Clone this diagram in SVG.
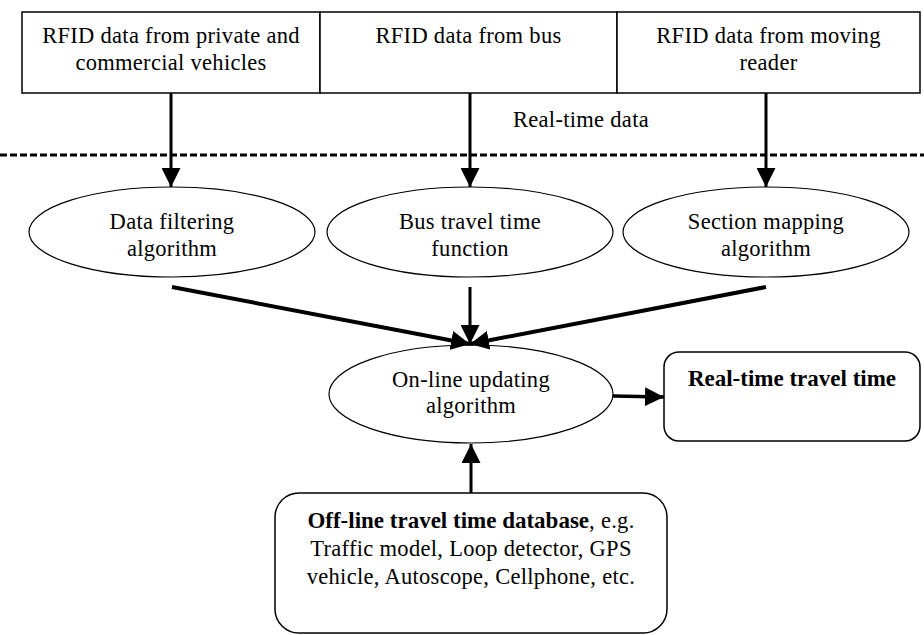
<svg xmlns="http://www.w3.org/2000/svg" width="924" height="635" viewBox="0 0 924 635">
<defs>
<style>
text{font-family:"Liberation Serif","Times New Roman",serif;font-size:22.5px;letter-spacing:0.3px;fill:#000;text-anchor:middle}
.b{font-weight:bold;font-size:23px;letter-spacing:0}
.box{fill:#fff;stroke:#000;stroke-width:1.5}
.ell{fill:#fff;stroke:#000;stroke-width:1.2}
.c{stroke:#000;fill:none}
</style>
<marker id="ah" markerWidth="19" markerHeight="19" viewBox="0 0 19 19" refX="19" refY="9.5" orient="auto" markerUnits="userSpaceOnUse">
<path d="M0,0 L19,9.5 L0,19 Z" fill="#000"/>
</marker>
</defs>
<rect width="924" height="635" fill="#fff"/>
<g id="top-boxes">
<g id="n-private">
<rect class="box" x="22" y="12" width="298" height="81"/>
<text x="171" y="43">RFID data from private and</text>
<text x="171" y="70">commercial vehicles</text>
</g>
<g id="n-bus">
<rect class="box" x="320" y="12" width="297" height="81"/>
<text x="468.5" y="43">RFID data from bus</text>
</g>
<g id="n-moving">
<rect class="box" x="617" y="12" width="303" height="81"/>
<text x="768.5" y="43">RFID data from moving</text>
<text x="768.5" y="70">reader</text>
</g>
</g>
<g id="realtime-label">
<text x="581" y="127">Real-time data</text>
<line x1="0" y1="155" x2="924" y2="155" stroke="#000" stroke-width="3" stroke-dasharray="7,3"/>
</g>
<g id="n-filter">
<ellipse class="ell" cx="172" cy="232" rx="143" ry="45"/>
<text x="172" y="229">Data filtering</text>
<text x="172" y="256">algorithm</text>
</g>
<g id="n-busfn">
<ellipse class="ell" cx="470" cy="232" rx="143" ry="45"/>
<text x="470" y="229">Bus travel time</text>
<text x="470" y="256">function</text>
</g>
<g id="n-section">
<ellipse class="ell" cx="766" cy="232" rx="143" ry="45"/>
<text x="766" y="229">Section mapping</text>
<text x="766" y="256">algorithm</text>
</g>
<g id="n-online">
<ellipse class="ell" cx="471" cy="394" rx="142" ry="49"/>
<text x="471" y="387">On-line updating</text>
<text x="471" y="413">algorithm</text>
</g>
<g id="n-realtime">
<rect class="box" x="664" y="352" width="256" height="89" rx="15" ry="15"/>
<text class="b" x="792" y="386">Real-time travel time</text>
</g>
<g id="n-offline">
<rect class="box" x="275" y="493" width="392" height="140" rx="24" ry="24"/>
<text x="471" y="528"><tspan class="b">Off-line travel time database</tspan>, e.g.</text>
<text x="471" y="556">Traffic model, Loop detector, GPS</text>
<text x="471" y="584">vehicle, Autoscope, Cellphone, etc.</text>
</g>
<g id="connectors">
<line class="c" x1="171" y1="93" x2="171" y2="187" stroke-width="3" marker-end="url(#ah)"/>
<line class="c" x1="470" y1="93" x2="470" y2="187" stroke-width="3" marker-end="url(#ah)"/>
<line class="c" x1="766" y1="93" x2="766" y2="187" stroke-width="3" marker-end="url(#ah)"/>
<line class="c" x1="172" y1="287" x2="470" y2="344" stroke-width="4" marker-end="url(#ah)"/>
<line class="c" x1="470" y1="287" x2="470" y2="344" stroke-width="3" marker-end="url(#ah)"/>
<line class="c" x1="766" y1="287" x2="470" y2="344" stroke-width="4" marker-end="url(#ah)"/>
<line class="c" x1="613" y1="396" x2="664" y2="397" stroke-width="3.5" marker-end="url(#ah)"/>
<line class="c" x1="471" y1="493" x2="471" y2="444" stroke-width="3" marker-end="url(#ah)"/>
</g>
</svg>
